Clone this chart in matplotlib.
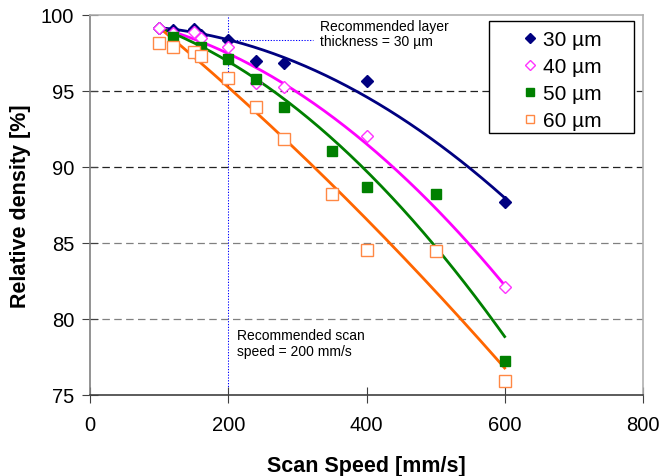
"""
Relative density vs scan speed for different layer thicknesses
"""
import numpy as np
import matplotlib.pyplot as plt
from matplotlib.patches import Rectangle

plt.rcParams['font.family'] = ['Liberation Sans', 'DejaVu Sans']

# ---- data ----
x_30 = [100, 120, 150, 160, 200, 240, 280, 400, 600]
y_30 = [99.15, 99.0, 99.05, 98.65, 98.35, 96.95, 96.85, 95.65, 87.7]

x_40 = [100, 120, 150, 160, 200, 240, 280, 400, 600]
y_40 = [99.15, 98.8, 98.85, 98.45, 97.85, 95.5, 95.25, 92.05, 82.1]

x_50 = [120, 160, 200, 240, 280, 350, 400, 500, 600]
y_50 = [98.55, 97.9, 97.1, 95.75, 93.95, 91.05, 88.7, 88.2, 77.25]

x_60 = [100, 120, 150, 160, 200, 240, 280, 350, 400, 500, 600]
y_60 = [98.15, 97.9, 97.55, 97.3, 95.85, 93.95, 91.8, 88.2, 84.55, 84.45, 75.9]

labels = ['30 µm', '40 µm', '50 µm', '60 µm']
rec_speed = 200

x_ticks = [0, 200, 400, 600, 800]
y_ticks = [75, 80, 85, 90, 95, 100]
grid_levels = [95, 90, 85, 80]
grid_colors = ['#222222', '#222222', '#808080', '#808080']


def trend(x, y, x0, y0):
    """二次趋势线，起点固定在 (x0, y0)"""
    x = np.asarray(x, float)
    y = np.asarray(y, float)
    d = x - x0
    A = np.column_stack([d, d ** 2])
    coef, *_ = np.linalg.lstsq(A, y - y0, rcond=None)
    xs = np.linspace(x0, x.max(), 200)
    ds = xs - x0
    return xs, y0 + coef[0] * ds + coef[1] * ds ** 2


fig = plt.figure(figsize=(6.64, 4.77), dpi=100)
ax = fig.add_axes([0.136, 0.17, 0.832, 0.797])

# 网格线
for lev, c in zip(grid_levels, grid_colors):
    ax.axhline(lev, color=c, lw=0.9, ls=(0, (6, 3.5)), zorder=1)

# 推荐值辅助线
ax.axvline(rec_speed, color='#0000FF', lw=0.75, ls=(0, (1.2, 1.5)), zorder=1)
ax.hlines(y_30[x_30.index(rec_speed)], rec_speed, 322, color='#0000FF',
          lw=0.75, ls=(0, (1.2, 1.5)), zorder=1)

series = [
    (x_30, y_30, '#000080', dict(marker='D', ms=6.5, mfc='#000080', mec='#000080')),
    (x_40, y_40, '#FF00FF', dict(marker='D', ms=6.5, mfc='white', mec='#FF33FF', mew=1)),
    (x_50, y_50, '#008000', dict(marker='s', ms=7.5, mfc='#008000', mec='#008000')),
    (x_60, y_60, '#FF6600', dict(marker='s', ms=8, mfc='white', mec='#FF8844', mew=1)),
]

x0 = x_30[0]
y0 = max(y_30[0], y_40[0])
for (xs, ys, col, mk), lab in zip(series, labels):
    tx, ty = trend(xs, ys, x0, y0)
    ax.plot(tx, ty, color=col, lw=2, zorder=2)
    ax.plot(xs, ys, ls='none', label=lab, zorder=3, **mk)

ax.text(332, 99.75, 'Recommended layer\nthickness = 30 µm', fontsize=10,
        va='top', ha='left', linespacing=1.15)
ax.text(212, 79.4, 'Recommended scan\nspeed = 200 mm/s', fontsize=10,
        va='top', ha='left', linespacing=1.15)

ax.set_xlim(0, 800)
ax.set_ylim(75, 100)
ax.set_xticks(x_ticks)
ax.set_yticks(y_ticks)
ax.tick_params(labelsize=14.5, length=11, color='#404040', direction='inout')
ax.tick_params(axis='x', pad=9)
ax.tick_params(axis='y', pad=6)

ax.set_xlabel('Scan Speed [mm/s]', fontsize=15.5, fontweight='bold', labelpad=15)
ax.set_ylabel('Relative density [%]', fontsize=15.5, fontweight='bold', labelpad=7)

for side in ['top', 'right']:
    ax.spines[side].set_color('#b0b0b0')
ax.spines['left'].set_color('#808080')
ax.spines['bottom'].set_color('#404040')
for sp in ax.spines.values():
    sp.set_linewidth(1.2)

# 图例框（Excel 风格，比内容宽）
ax.add_patch(Rectangle((0.721, 0.688), 0.263, 0.296, transform=ax.transAxes,
                       facecolor='white', edgecolor='black', lw=1, zorder=4))
leg = ax.legend(loc='upper left', bbox_to_anchor=(0.784, 0.959), fontsize=15,
                frameon=False, borderaxespad=0, borderpad=0, handlelength=0.6,
                handletextpad=0.35, labelspacing=0.38, markerscale=0.8)
leg.set_zorder(5)

plt.savefig('out.png', dpi=100)
